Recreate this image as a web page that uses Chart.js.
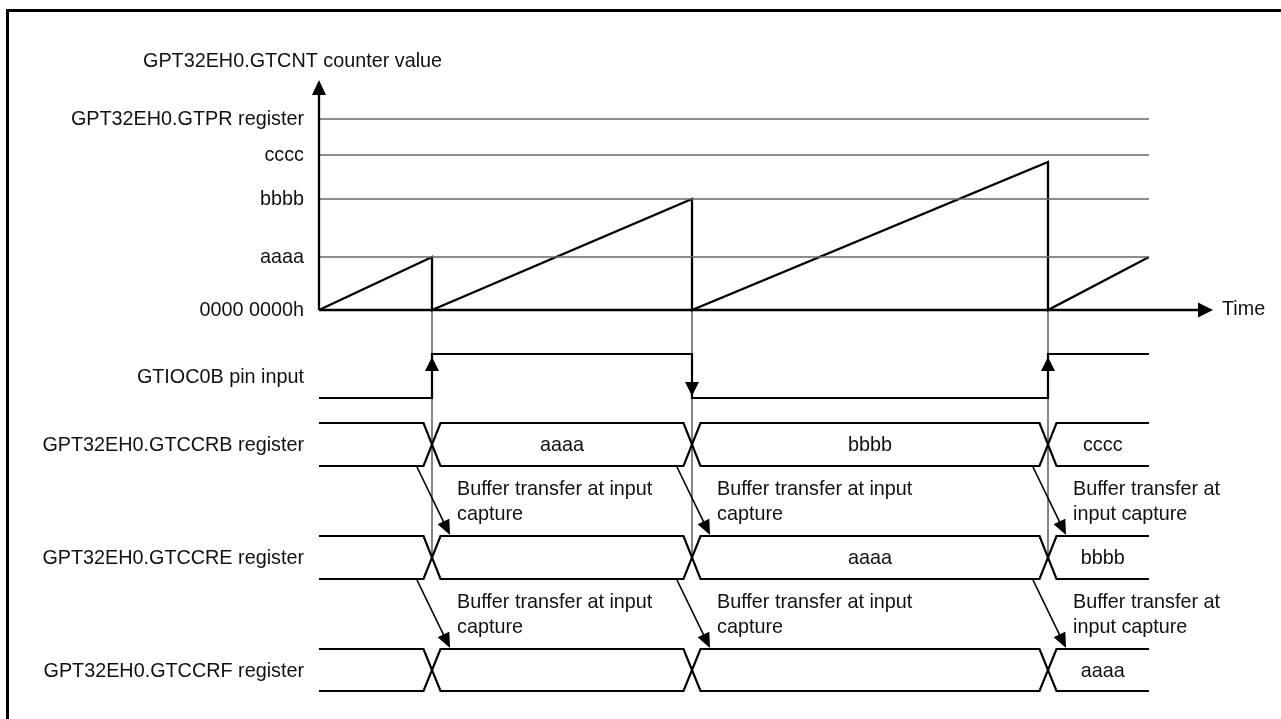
<!DOCTYPE html>
<html><head><meta charset="utf-8">
<script src="https://cdn.jsdelivr.net/npm/chart.js@4/dist/chart.umd.min.js"></script>
<style>html,body{margin:0;padding:0;background:#fff;}canvas{display:block;}</style>
</head><body><canvas id="c" width="1281" height="719"></canvas>
<script>
// ---------------- data ----------------
const captureTimes = [113, 373, 729];          // input-capture instants (counter cleared)
const endTime = 830;                           // right end of the traces
const timeAxisEnd = 894;                       // tip of the Time arrow
const counterPeaks = [53, 111, 148];           // GTCNT value reached at each capture
const counterEndValue = 53;                    // GTCNT at the right end
const refLineLabels = ['GPT32EH0.GTPR register', 'cccc', 'bbbb', 'aaaa', '0000 0000h'];
const refLineValues = [191, 155, 111, 53, 0];
const counterAxisTop = 230;
const counterTitle = 'GPT32EH0.GTCNT counter value';
const timeLabel = 'Time';
const pinLevels = [0, 1, 0, 1];                // GTIOC0B level in each interval
const ccrbValues = ['', 'aaaa', 'bbbb', 'cccc'];
const ccreValues = ['', '', 'aaaa', 'bbbb'];
const ccrfValues = ['', '', '', 'aaaa'];
const rowLabels = ['GTIOC0B pin input', 'GPT32EH0.GTCCRB register', 'GPT32EH0.GTCCRE register', 'GPT32EH0.GTCCRF register'];
const transferNotes = [
  ['Buffer transfer at input', 'capture'],
  ['Buffer transfer at input', 'capture'],
  ['Buffer transfer at', 'input capture']
];

// ---------------- layout (lane units, top-down) ----------------
const lanes = {
  pin:  { hi: 354, lo: 398 },
  ccrb: { hi: 423, lo: 466 },
  ccre: { hi: 536, lo: 579 },
  ccrf: { hi: 649, lo: 691 }
};
const xHalf = 8.5;
const FONT = '19.8px "Liberation Sans", Arial, Helvetica, sans-serif';

// ---------------- datasets ----------------
const datasets = [];
refLineValues.forEach(v => {
  if (v === 0) return;
  datasets.push({ data: [{x: 0, y: v}, {x: endTime, y: v}], borderColor: '#666', borderWidth: 1.6, yAxisID: 'y' });
});
const saw = [{x: 0, y: 0}];
captureTimes.forEach((t, i) => { saw.push({x: t, y: counterPeaks[i]}); saw.push({x: t, y: 0}); });
saw.push({x: endTime, y: counterEndValue});
datasets.push({ data: saw, borderColor: '#000', borderWidth: 2.3, yAxisID: 'y' });

const bounds = [0, ...captureTimes, endTime];
const pin = [];
pinLevels.forEach((lv, i) => {
  const y = lv ? lanes.pin.hi : lanes.pin.lo;
  pin.push({x: bounds[i], y}); pin.push({x: bounds[i + 1], y});
});
datasets.push({ data: pin, borderColor: '#000', borderWidth: 2.2, yAxisID: 'lane' });

function busPaths(lane) {
  const a = [], b = [];
  let up = true;
  a.push({x: 0, y: lane.hi}); b.push({x: 0, y: lane.lo});
  captureTimes.forEach(t => {
    const y1 = up ? lane.hi : lane.lo, y2 = up ? lane.lo : lane.hi;
    a.push({x: t - xHalf, y: y1}); a.push({x: t + xHalf, y: y2});
    b.push({x: t - xHalf, y: y2}); b.push({x: t + xHalf, y: y1});
    up = !up;
  });
  a.push({x: endTime, y: up ? lane.hi : lane.lo});
  b.push({x: endTime, y: up ? lane.lo : lane.hi});
  return [a, b];
}
[lanes.ccrb, lanes.ccre, lanes.ccrf].forEach(l => {
  busPaths(l).forEach(p => datasets.push({ data: p, borderColor: '#000', borderWidth: 2.2, yAxisID: 'lane', borderJoinStyle: 'miter' }));
});
datasets.forEach(d => { d.showLine = true; d.pointRadius = 0; d.fill = false; d.tension = 0; });

// ---------------- drawing helpers ----------------
function head(ctx, tx, ty, fx, fy, len, w) {
  const a = Math.atan2(ty - fy, tx - fx);
  const bx = tx - len * Math.cos(a), by = ty - len * Math.sin(a);
  const px = -Math.sin(a) * w / 2, py = Math.cos(a) * w / 2;
  ctx.beginPath(); ctx.moveTo(tx, ty); ctx.lineTo(bx + px, by + py); ctx.lineTo(bx - px, by - py); ctx.closePath(); ctx.fill();
}
function line(ctx, x1, y1, x2, y2) { ctx.beginPath(); ctx.moveTo(x1, y1); ctx.lineTo(x2, y2); ctx.stroke(); }

const diagram = {
  id: 'diagram',
  beforeDatasetsDraw(chart) {
    const {ctx, scales: {x, y, lane}} = chart;
    ctx.save();
    ctx.strokeStyle = '#444'; ctx.lineWidth = 1.3;
    captureTimes.forEach(t => {
      const px = x.getPixelForValue(t);
      line(ctx, px, y.getPixelForValue(0), px, (lane.getPixelForValue(lanes.ccre.hi) + lane.getPixelForValue(lanes.ccre.lo)) / 2);
    });
    ctx.restore();
  },
  afterDatasetsDraw(chart) {
    const {ctx, scales: {x, y, lane}} = chart;
    ctx.save();
    ctx.fillStyle = '#000'; ctx.strokeStyle = '#000';
    // frame
    ctx.lineWidth = 3;
    ctx.beginPath(); ctx.moveTo(7.5, 740); ctx.lineTo(7.5, 10.5); ctx.lineTo(1300, 10.5); ctx.stroke();
    // axes
    const ox = x.getPixelForValue(0), oy = y.getPixelForValue(0);
    ctx.lineWidth = 2.3;
    const topPx = y.getPixelForValue(counterAxisTop);
    line(ctx, ox, oy, ox, topPx + 6);
    head(ctx, ox, topPx, ox, oy, 15, 14);
    const endPx = x.getPixelForValue(timeAxisEnd);
    line(ctx, ox, oy, endPx - 6, oy);
    head(ctx, endPx, oy, ox, oy, 15, 15);
    // pin edge arrows
    captureTimes.forEach((t, i) => {
      const px = x.getPixelForValue(t);
      const rising = pinLevels[i + 1] > pinLevels[i];
      const hi = lane.getPixelForValue(lanes.pin.hi), lo = lane.getPixelForValue(lanes.pin.lo);
      if (rising) head(ctx, px, hi + 3, px, lo, 14, 14);
      else head(ctx, px, lo - 2, px, hi, 14, 14);
    });
    // transfer arrows
    ctx.lineWidth = 1.6;
    captureTimes.forEach(t => {
      [[lanes.ccrb, lanes.ccre], [lanes.ccre, lanes.ccrf]].forEach(([from, to]) => {
        const x1 = x.getPixelForValue(t - 15), y1 = lane.getPixelForValue(from.lo) + 1;
        const x2 = x.getPixelForValue(t + 18), y2 = lane.getPixelForValue(to.hi) - 1;
        const a = Math.atan2(y2 - y1, x2 - x1);
        line(ctx, x1, y1, x2 - 8 * Math.cos(a), y2 - 8 * Math.sin(a));
        head(ctx, x2, y2, x1, y1, 15, 13);
      });
    });
    // texts
    ctx.font = FONT; ctx.fillStyle = '#111'; ctx.textBaseline = 'middle';
    ctx.textAlign = 'left';
    ctx.fillText(counterTitle, ox - 176, 62);
    ctx.fillText(timeLabel, endPx + 9, oy);
    ctx.textAlign = 'right';
    refLineLabels.forEach((s, i) => ctx.fillText(s, ox - 15, y.getPixelForValue(refLineValues[i]) + 0.5));
    const laneList = [lanes.pin, lanes.ccrb, lanes.ccre, lanes.ccrf];
    rowLabels.forEach((s, i) => {
      const l = laneList[i];
      ctx.fillText(s, ox - 15, (lane.getPixelForValue(l.hi) + lane.getPixelForValue(l.lo)) / 2 + 1.5);
    });
    ctx.textAlign = 'center';
    [[lanes.ccrb, ccrbValues], [lanes.ccre, ccreValues], [lanes.ccrf, ccrfValues]].forEach(([l, vals]) => {
      const cy = (lane.getPixelForValue(l.hi) + lane.getPixelForValue(l.lo)) / 2 + 1.5;
      vals.forEach((v, i) => {
        if (!v) return;
        const a = i === 0 ? 0 : bounds[i] + xHalf, b = i === vals.length - 1 ? endTime : bounds[i + 1] - xHalf;
        ctx.fillText(v, (x.getPixelForValue(a) + x.getPixelForValue(b)) / 2, cy);
      });
    });
    ctx.textAlign = 'left';
    captureTimes.forEach((t, i) => {
      const tx = x.getPixelForValue(t) + 25;
      [lanes.ccre, lanes.ccrf].forEach(l => {
        const top = lane.getPixelForValue(l.hi);
        ctx.fillText(transferNotes[i][0], tx, top - 46);
        ctx.fillText(transferNotes[i][1], tx, top - 21);
      });
    });
    ctx.restore();
  }
};

new Chart(document.getElementById('c'), {
  type: 'scatter',
  data: { datasets },
  options: {
    responsive: false, animation: false, devicePixelRatio: 1, events: [],
    layout: { padding: 0 },
    plugins: { legend: { display: false }, tooltip: { enabled: false } },
    scales: {
      x: { type: 'linear', min: -319, max: 962, display: false },
      y: { type: 'linear', min: -409, max: 310, display: false },
      lane: { type: 'linear', min: 0, max: 719, reverse: true, display: false }
    }
  },
  plugins: [diagram]
});
</script></body></html>
